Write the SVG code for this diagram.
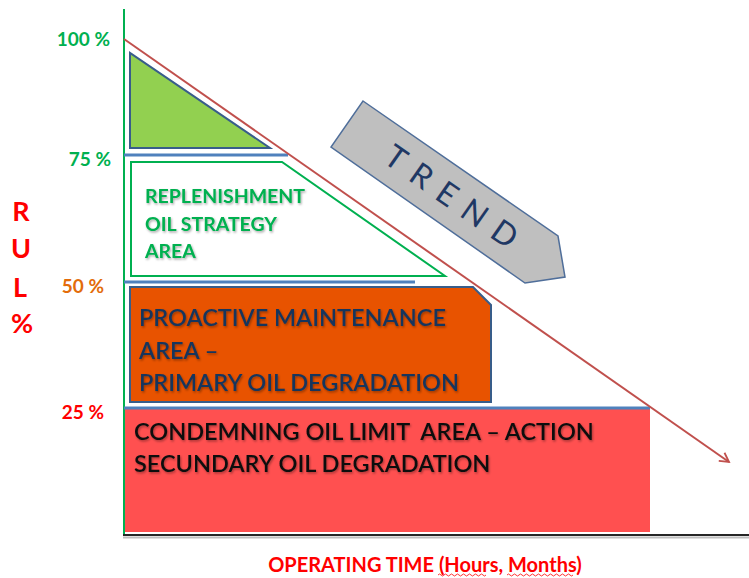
<svg xmlns="http://www.w3.org/2000/svg" width="749" height="578" viewBox="0 0 749 578">
  <defs>
    <filter id="soft" x="-5%" y="-20%" width="110%" height="150%">
      <feDropShadow dx="1" dy="1.5" stdDeviation="0.8" flood-color="#000" flood-opacity="0.35"/>
    </filter>
    <marker id="head" viewBox="0 0 12 12" refX="10" refY="6" markerWidth="12" markerHeight="12" markerUnits="userSpaceOnUse" orient="auto">
      <path d="M1,1 L10,6 L1,11" fill="none" stroke="#C0504D" stroke-width="1.8"/>
    </marker>
  </defs>
  <style>
    .lbl { font-family: Lato, "Liberation Sans", sans-serif; font-weight: bold; }
    .band { stroke: #4F81BD; stroke-width: 3; }
    .zone { stroke: #385D8A; stroke-width: 2; }
    .navy { fill: #17365D; }
  </style>
  <rect width="749" height="578" fill="#FFFFFF"/>

  <!-- axes -->
  <g id="axes">
    <line x1="124" y1="9" x2="124" y2="534" stroke="#00B050" stroke-width="2"/>
    <line x1="123" y1="537.5" x2="749" y2="537.5" stroke="#BFBFBF" stroke-width="2"/>
    <line x1="123" y1="535" x2="749" y2="535" stroke="#262626" stroke-width="2"/>
  </g>

  <!-- level labels -->
  <g id="levels" class="lbl" font-size="19" text-anchor="end">
    <text x="110" y="46" fill="#00B050">100 %</text>
    <text x="111" y="166" fill="#00B050">75 %</text>
    <text x="104" y="293" fill="#E36C0A">50 %</text>
    <text x="104" y="419" fill="#FF0000">25 %</text>
  </g>

  <g id="rul" class="lbl" font-size="27" fill="#FF0000" text-anchor="middle">
    <text x="21" y="221">R</text>
    <text x="21" y="258">U</text>
    <text x="20" y="297">L</text>
    <text x="22" y="333">%</text>
  </g>

  <!-- level bands -->
  <g id="bands">
    <line class="band" x1="124" y1="155" x2="288" y2="155"/>
    <line class="band" x1="124" y1="282" x2="415" y2="282"/>
  </g>

  <!-- top zone -->
  <g id="top-zone">
    <polygon class="zone" points="130,53 130,148 270,148" fill="#92D050"/>
  </g>

  <!-- replenishment zone -->
  <g id="replenishment">
    <polygon points="131,162 282,162 445,276 131,276" fill="#FFFFFF" stroke="#00B050" stroke-width="2"/>
    <g class="lbl" font-size="19.5" fill="#00B050" filter="url(#soft)">
      <text x="145" y="203">REPLENISHMENT</text>
      <text x="145" y="231">OIL STRATEGY</text>
      <text x="145" y="258">AREA</text>
    </g>
  </g>

  <!-- proactive zone -->
  <g id="proactive">
    <polygon class="zone" points="130,287 473,287 491,305 491,402 130,402" fill="#E85300"/>
    <g class="navy" font-family="Lato, 'Liberation Sans', sans-serif" font-weight="600" font-size="23.5" filter="url(#soft)">
      <text x="139" y="326">PROACTIVE MAINTENANCE</text>
      <text x="139" y="359">AREA –</text>
      <text x="139" y="391">PRIMARY OIL DEGRADATION</text>
    </g>
  </g>

  <!-- condemning zone -->
  <g id="condemning">
    <rect x="125" y="409" width="525" height="123" fill="#FF5050"/>
    <line class="band" x1="124" y1="408" x2="650" y2="408"/>
    <g font-family="Lato, 'Liberation Sans', sans-serif" font-weight="600" font-size="23.5" fill="#111111" filter="url(#soft)">
      <text x="134" y="440" style="white-space: pre">CONDEMNING OIL LIMIT  AREA – ACTION</text>
      <text x="134" y="472">SECUNDARY OIL DEGRADATION</text>
    </g>
  </g>

  <!-- trend arrow -->
  <g id="trend">
    <polygon points="363,101 558,236 565,277 525,283 331,147" fill="#BFBFBF" stroke="#4F6E9A" stroke-width="1.5"/>
    <text x="0" y="0" transform="translate(457,199) rotate(35)" font-family="Lato, 'Liberation Sans', sans-serif" font-size="32" fill="#1F3864" text-anchor="middle" dominant-baseline="central" letter-spacing="12">TREND</text>
  </g>

  <!-- connectors -->
  <g id="connectors">
    <line x1="124" y1="39" x2="729" y2="462" stroke="#C0504D" stroke-width="2" marker-end="url(#head)"/>
  </g>

  <!-- time axis label -->
  <g id="time-label">
    <text x="425" y="572" class="lbl" font-size="20" fill="#FF0000" text-anchor="middle" font-weight="600">OPERATING TIME (Hours, Months)</text>
    <path d="M438,575 q1.5,-2 3,0 t3,0 t3,0 t3,0 t3,0 t3,0 t3,0 t3,0 t3,0 t3,0 t3,0 t3,0 t3,0 t3,0 t3,0 t3,0 M507,575 q1.5,-2 3,0 t3,0 t3,0 t3,0 t3,0 t3,0 t3,0 t3,0 t3,0 t3,0 t3,0 t3,0 t3,0 t3,0 t3,0 t3,0 t3,0 t3,0 t3,0 t3,0 t3,0 t3,0" fill="none" stroke="#FF0000" stroke-width="0.8"/>
  </g>
</svg>
